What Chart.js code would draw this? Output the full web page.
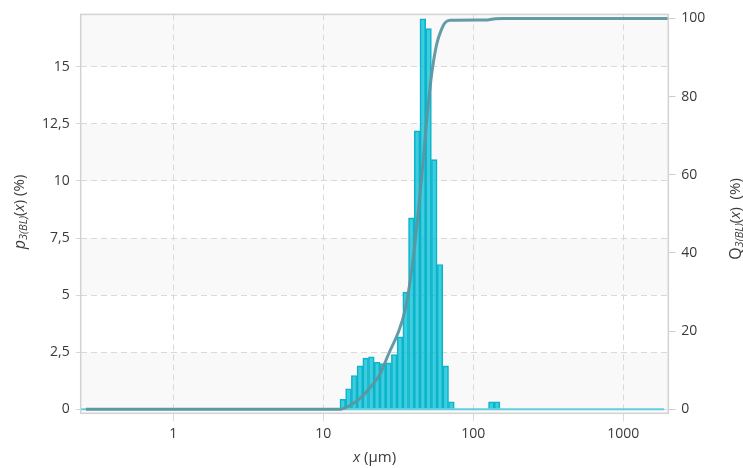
<!DOCTYPE html>
<html>
<head>
<meta charset="utf-8">
<script src="https://cdn.jsdelivr.net/npm/chart.js@4"></script>
<style>
  html, body { margin: 0; padding: 0; background: #fff; }
</style>
</head>
<body>
<canvas id="psdChart" width="743" height="468"></canvas>
<script>
// ==============================
// DATA
// ==============================
// histogram bin centres (µm) and p3 values (%) per bin
const binCentersUm = [13.49, 14.727, 16.077, 17.551, 19.160, 20.917, 22.834, 24.928, 27.215, 29.710,
  32.434, 35.409, 38.658, 42.202, 46.070, 50.297, 54.906, 59.938, 65.432, 71.434,
  77.984, 85.134, 92.935, 101.46, 110.77, 120.90, 132.00, 144.12];
const p3Values = [0.44, 0.90, 1.48, 1.90, 2.24, 2.30, 2.06, 2.00, 2.03, 2.40,
  3.17, 5.13, 8.38, 12.19, 17.10, 16.67, 10.93, 6.34, 1.90, 0.33,
  0, 0, 0, 0, 0, 0, 0.33, 0.33];

// cumulative Q3 curve (%)
const q3SizesUm = [0.262, 12.92, 15.07, 17.57, 20.48, 23.88, 27.42, 31.48, 35.05, 38.85,
  41.95, 45.29, 48.91, 52.81, 57.02, 61.55, 64.5, 69.93, 123.4, 140, 157.8, 1995];
const q3Values = [0, 0, 1.0, 2.8, 5.5, 9.0, 14.4, 19.5, 25.3, 35.6,
  46.6, 59.4, 73.9, 85.8, 93.4, 97.3, 98.8, 99.5, 99.6, 99.9, 100, 100];

// p3 zero line over the measuring range
const p3RangeUm = [0.2414, 1870];
const p3RangeValues = [0, 0];

const xTickValues = [1, 10, 100, 1000];
const leftTickStep = 2.5;
const rightTickStep = 20;

// ==============================
// HELPERS
// ==============================
const fontFamily = "'Open Sans', 'DejaVu Sans', sans-serif";
const textColor = '#3a3a3a';

function fontOf(part) {
  return (part.italic ? 'italic ' : '') + (part.size || 14) + 'px ' + fontFamily;
}

function drawRichText(ctx, parts, x, y, rotate) {
  ctx.save();
  ctx.translate(x, y);
  if (rotate) ctx.rotate(-Math.PI / 2);
  let total = 0;
  parts.forEach(p => {
    ctx.font = fontOf(p);
    p.w = ctx.measureText(p.t).width;
    total += p.w;
  });
  let cx = -total / 2;
  ctx.textBaseline = 'middle';
  ctx.textAlign = 'left';
  ctx.fillStyle = textColor;
  parts.forEach(p => {
    ctx.font = fontOf(p);
    ctx.fillText(p.t, cx, p.dy || 0);
    cx += p.w;
  });
  ctx.restore();
}

const plotDecor = {
  id: 'plotDecor',
  beforeDraw(chart) {
    const { ctx, chartArea: a, scales } = chart;
    const y = scales.y;
    ctx.save();
    ctx.fillStyle = '#f9f9f9';
    ctx.fillRect(a.left, a.top, a.width, a.height);
    ctx.fillStyle = '#ffffff';
    const vals = y.ticks.map(t => t.value);
    for (let i = 1; i + 1 < vals.length; i += 2) {
      const y0 = y.getPixelForValue(vals[i]);
      const y1 = y.getPixelForValue(vals[i + 1]);
      ctx.fillRect(a.left, y1, a.width, y0 - y1);
    }
    ctx.restore();
  },
  afterDraw(chart) {
    const { ctx, chartArea: a } = chart;
    ctx.save();
    ctx.strokeStyle = '#d2d2d2';
    ctx.lineWidth = 1.5;
    ctx.strokeRect(a.left, a.top, a.width, a.height);
    ctx.restore();

    drawRichText(ctx, [
      { t: 'p', italic: true, size: 16 },
      { t: '3(BL)', italic: true, size: 11, dy: 4 },
      { t: '(', size: 15 },
      { t: 'x', italic: true, size: 15 },
      { t: ')', size: 15 },
      { t: ' (%)', size: 15 }
    ], 20, 212, true);

    drawRichText(ctx, [
      { t: 'Q', size: 16 },
      { t: '3(BL)', italic: true, size: 11, dy: 4 },
      { t: '(', size: 15 },
      { t: 'x', italic: true, size: 15 },
      { t: ')', size: 15 },
      { t: '  (%)', size: 15 }
    ], 736, 219, true);

    drawRichText(ctx, [
      { t: 'x', italic: true, size: 15 },
      { t: ' (µm)', size: 15 }
    ], (a.left + a.right) / 2, 458, false);
  }
};

// ==============================
// CHART
// ==============================
const ctx = document.getElementById('psdChart').getContext('2d');

new Chart(ctx, {
  type: 'line',
  data: {
    datasets: [
      {
        type: 'line',
        label: 'Q3',
        data: q3SizesUm.map((x, i) => ({ x, y: q3Values[i] })),
        yAxisID: 'y2',
        borderColor: 'rgba(92, 150, 160, 0.95)',
        borderWidth: 3,
        pointRadius: 0,
        cubicInterpolationMode: 'monotone',
        order: 0
      },
      {
        type: 'line',
        label: 'p3 range',
        data: p3RangeUm.map((x, i) => ({ x, y: p3RangeValues[i] })),
        yAxisID: 'y',
        borderColor: '#5ccfe0',
        borderWidth: 2,
        pointRadius: 0,
        order: 1
      },
      {
        type: 'bar',
        label: 'p3',
        data: binCentersUm.map((x, i) => ({ x, y: p3Values[i] })),
        yAxisID: 'y',
        backgroundColor: 'rgba(0, 188, 212, 0.75)',
        borderColor: '#10b2c8',
        borderWidth: 1,
        barThickness: 'flex',
        barPercentage: 1,
        categoryPercentage: 1,
        order: 2
      }
    ]
  },
  options: {
    responsive: false,
    animation: false,
    devicePixelRatio: 1,
    layout: { padding: { top: 13.3, left: 0, right: 0, bottom: 0 } },
    plugins: {
      legend: { display: false },
      tooltip: { enabled: false }
    },
    scales: {
      x: {
        type: 'logarithmic',
        position: 'bottom',
        min: 0.2414,
        max: 1995,
        offset: false,
        afterBuildTicks: s => { s.ticks = xTickValues.map(v => ({ value: v })); },
        afterFit: s => { s.height = 54.7; },
        ticks: {
          callback: v => String(v),
          color: textColor,
          font: { family: fontFamily, size: 14 },
          padding: 4,
          maxRotation: 0,
          autoSkip: false
        },
        grid: { color: '#d9d9d9', tickLength: 8, offset: false },
        border: { display: false, dash: [6, 4] }
      },
      y: {
        type: 'linear',
        position: 'left',
        min: -0.175,
        max: 17.29,
        afterFit: s => { s.width = 80.7; },
        ticks: {
          stepSize: leftTickStep,
          includeBounds: false,
          callback: v => String(v).replace('.', ','),
          color: textColor,
          font: { family: fontFamily, size: 14 },
          padding: 6
        },
        grid: { color: '#d9d9d9', tickLength: 5 },
        border: { display: false, dash: [6, 4] }
      },
      y2: {
        type: 'linear',
        position: 'right',
        min: -1.02,
        max: 101.02,
        afterFit: s => { s.width = 74.7; },
        ticks: {
          stepSize: rightTickStep,
          includeBounds: false,
          color: textColor,
          font: { family: fontFamily, size: 14 },
          padding: 6
        },
        grid: { drawOnChartArea: false, color: '#cccccc', tickLength: 7 },
        border: { display: false }
      }
    }
  },
  plugins: [plotDecor]
});
</script>
</body>
</html>
